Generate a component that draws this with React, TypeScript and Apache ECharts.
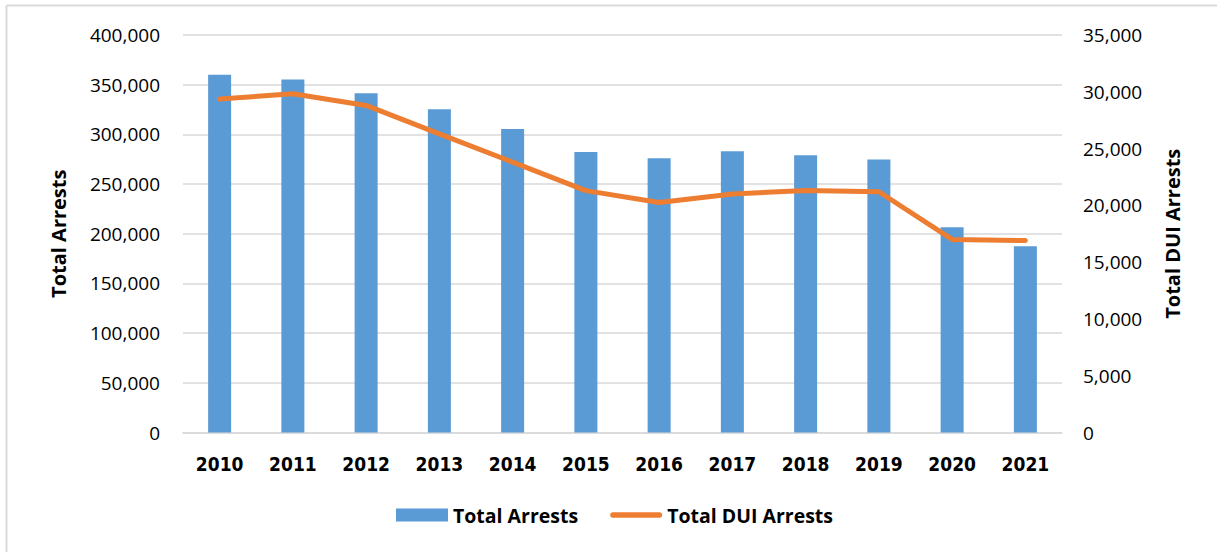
import React, { useEffect, useRef } from "react";
import * as echarts from "echarts";

const years = ["2010", "2011", "2012", "2013", "2014", "2015", "2016", "2017", "2018", "2019", "2020", "2021"];
const totalArrests = [360000, 355300, 341500, 325400, 305300, 282200, 275900, 282900, 278900, 274600, 206500, 187400];
const totalDuiArrests = [29360, 29830, 28800, 26300, 23800, 21300, 20250, 21000, 21300, 21200, 17000, 16900];

const fmt = (v: number) => v.toLocaleString("en-US");
const FONT = "'Open Sans', 'Liberation Sans', sans-serif";
const LINE_ICON = "path://M3,0 H53 A3,3 0 0 1 53,6 H3 A3,3 0 0 1 3,0 Z";

export default function App() {
  const ref = useRef<HTMLDivElement>(null);
  useEffect(() => {
    const chart = echarts.init(ref.current!, null, { renderer: "svg" });
    chart.setOption({
      animation: false,
      backgroundColor: "#ffffff",
      textStyle: { fontFamily: FONT },
      grid: { left: 183, right: 155, top: 35, bottom: 119.5, containLabel: false },
      graphic: [
        { type: "line", shape: { x1: 6.5, y1: 5.5, x2: 1217, y2: 5.5 }, style: { stroke: "#d9d9d9", lineWidth: 2 } },
        { type: "line", shape: { x1: 6.5, y1: 5.5, x2: 6.5, y2: 552 }, style: { stroke: "#d9d9d9", lineWidth: 2 } },
      ],
      legend: {
        bottom: 22,
        left: 391,
        itemWidth: 52,
        itemHeight: 13,
        itemGap: 32,
        symbolKeepAspect: true,
        textStyle: { fontFamily: FONT, fontSize: 19.5, fontWeight: "bold", color: "#000" },
        data: [
          { name: "Total Arrests", icon: "rect" },
          { name: "Total DUI Arrests", icon: LINE_ICON },
        ],
      },
      xAxis: {
        type: "category",
        data: years,
        axisTick: { show: false },
        axisLine: { lineStyle: { color: "#d9d9d9", width: 1.5 } },
        axisLabel: {
          margin: 22,
          fontFamily: "'Liberation Sans Narrow', 'DejaVu Sans Condensed', 'Liberation Sans', sans-serif",
          fontSize: 19,
          fontWeight: "bold",
          color: "#000",
        },
      },
      yAxis: [
        {
          type: "value",
          min: 0,
          max: 400000,
          interval: 50000,
          name: "Total Arrests",
          nameLocation: "middle",
          nameGap: 115,
          nameTextStyle: { fontFamily: FONT, fontSize: 20, fontWeight: "bold", color: "#000" },
          axisLine: { show: false },
          axisTick: { show: false },
          axisLabel: { margin: 23, fontFamily: FONT, fontSize: 19, color: "#000", formatter: (v: number) => fmt(v) },
          splitLine: { lineStyle: { color: "#d9d9d9", width: 1.5 } },
        },
        {
          type: "value",
          min: 0,
          max: 35000,
          interval: 5000,
          name: "Total DUI Arrests",
          nameLocation: "middle",
          nameGap: 100,
          nameTextStyle: { fontFamily: FONT, fontSize: 20, fontWeight: "bold", color: "#000" },
          axisLine: { show: false },
          axisTick: { show: false },
          axisLabel: { margin: 21, fontFamily: FONT, fontSize: 19, color: "#000", formatter: (v: number) => fmt(v) },
          splitLine: { show: false },
        },
      ],
      series: [
        {
          name: "Total Arrests",
          type: "bar",
          data: totalArrests,
          yAxisIndex: 0,
          barWidth: 23,
          itemStyle: { color: "#5b9bd5" },
        },
        {
          name: "Total DUI Arrests",
          type: "line",
          data: totalDuiArrests,
          yAxisIndex: 1,
          symbol: "none",
          lineStyle: { color: "#ed7d31", width: 5, cap: "round", join: "round" },
          itemStyle: { color: "#ed7d31" },
        },
      ],
    });
    return () => chart.dispose();
  }, []);
  return (
    <div
      ref={ref}
      style={{ position: "absolute", left: 0, top: 0, width: 1217, height: 552 }}
    />
  );
}
